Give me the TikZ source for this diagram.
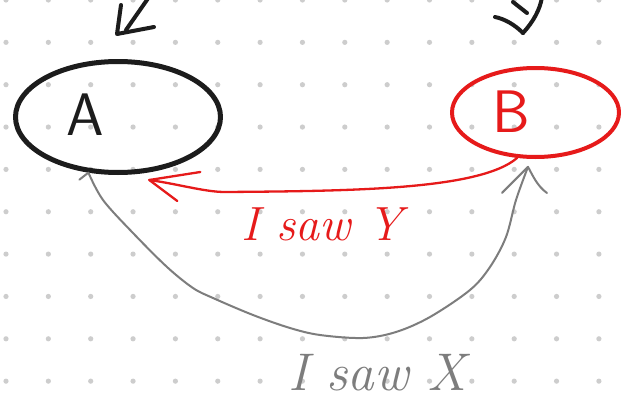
\documentclass[tikz,border=0pt]{standalone}
\usepackage{fontspec}
\usetikzlibrary{shapes.geometric}
\definecolor{inkblack}{RGB}{28,28,28}
\definecolor{inkred}{RGB}{230,26,26}
\definecolor{inkgray}{RGB}{125,125,125}
\definecolor{dotgray}{RGB}{205,205,205}
\begin{document}
\begin{tikzpicture}[x=1pt,y=-1pt, line cap=round, line join=round,
  ell/.style={draw, ellipse, inner sep=0pt},
  letter/.style={font=\sffamily\fontsize{60}{60}\selectfont, anchor=base, inner sep=0pt},
  hand/.style={font=\itshape\fontsize{48}{48}\selectfont, anchor=base west, inner sep=0pt},
  blackink/.style={draw=inkblack, line width=4pt},
  redink/.style={draw=inkred, line width=2.3pt},
  grayink/.style={draw=inkgray, line width=2pt}]
\fill[white] (0,0) rectangle (633,399);
\useasboundingbox (0,0) rectangle (633,399);
\foreach \i in {0,...,14} \foreach \j in {0,...,9} \fill[dotgray] ({6+42.35*\i},{42.35*\j}) circle (2.6pt);

% nodes
\node[ell, draw=inkblack, line width=5pt, minimum width=205pt, minimum height=111pt] (A) at (118,117) {};
\node[ell, draw=inkred, line width=4pt, minimum width=167pt, minimum height=89pt] (B) at (535.5,112.5) {};
\node[letter, text=inkblack] (Atxt) at (85,135) {A};
\node[letter, text=inkred] (Btxt) at (511,132) {B};
\node[hand, text=inkred] (ly) at (241,240) {I saw Y};
\node[hand, text=inkgray, font=\itshape\fontsize{53}{53}\selectfont] (lx) at (288,390) {I saw X};

% incoming black arrow to A (from outside the picture)
\coordinate (inA) at (149,-3);
\coordinate (tipA) at (117,34);
\draw[blackink] (inA) -- (126,30);
\draw[blackink] (tipA) ++(37,-7) -- (tipA) -- ++(4,-29);

% incoming black arrow to B (from outside the picture)
\coordinate (inB) at (542,-3);
\coordinate (tipB) at (523,33);
\draw[blackink] (inB) .. controls (540,10) and (533,22) .. (tipB);
\draw[blackink] (tipB) .. controls (515,25) and (505,19) .. (495,17);
\draw[blackink] (513,2) -- (527,13);

% red connector B -> A
\coordinate (rtip) at ([shift={(4,7)}]A.-64);
\draw[redink] (B.-112) .. controls (480,190) and (350,191) .. (225,192)
  .. controls (205,192) and (178,184) .. (rtip);
\draw[redink] (rtip) ++(51,-8) -- (rtip) -- ++(28,21);

% gray connector A <-> B
\coordinate (gA) at (A.-118.6);
\coordinate (gB) at ([shift={(-1,8)}]B.-98);
\draw[grayink] plot[smooth, tension=0.55] coordinates {(gA) (103,200) (133,233) (167,267) (193,288) (213,298) (253,315) (290,328) (320,335) (363,338) (396,332) (430,317) (470,290) (490,267) (506,237) (516,200) (gB)};
\draw[grayink] (gA) -- ++(-9,7);
\draw[grayink] (gB) -- ++(-26,26);
\draw[grayink] (gB) .. controls (532,174) and (537,186) .. (547,193);
\end{tikzpicture}
\end{document}
